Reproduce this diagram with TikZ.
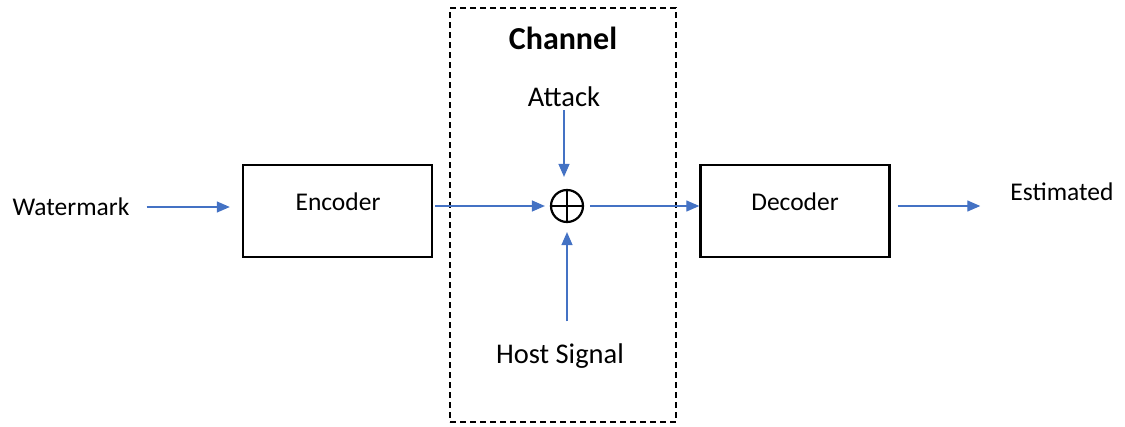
\documentclass[tikz,border=0pt]{standalone}
\usepackage{fontspec}
\setmainfont{Carlito}
\usetikzlibrary{arrows.meta}
\definecolor{sigblue}{HTML}{4472C4}

\begin{document}
\begin{tikzpicture}[x=1pt, y=-1pt, >={Triangle[length=13pt, width=11pt]}, font=\fontsize{25.5}{30}\selectfont]
    \tikzstyle{block}=[draw, black, line width=2.4pt, minimum width=189pt, minimum height=92pt, inner sep=0pt]
    \tikzstyle{txt}=[inner sep=0pt]
    \tikzstyle{big}=[font=\fontsize{28.5}{33}\selectfont]
    \tikzstyle{sig}=[->, sigblue, line width=1.3pt]
    \tikzstyle{adder}=[draw, black, line width=2.2pt, circle, minimum size=32pt, inner sep=0pt,
        path picture={\draw[line width=2.2pt] (path picture bounding box.north) -- (path picture bounding box.south)
            (path picture bounding box.west) -- (path picture bounding box.east);}]

    \useasboundingbox (0,0) rectangle (1125,426);

    % Draw the channel frame
    \node[draw, line width=2.4pt, dash pattern=on 6pt off 4pt, minimum width=226pt, minimum height=414pt] (ch) at (563,215) {};
    \node[txt, font=\fontsize{32}{36}\selectfont\bfseries] (ch-title) at (563,38) {Channel};

    % Draw the blocks
    \node[block] (enc) at (337.5,211) {};
    \node[txt] (enc-txt) at (338,202) {Encoder};
    \node[block] (dec) at (795,211) {};
    \node[txt] (dec-txt) at (795,202) {Decoder};
    \node[adder] (add) at (567,206) {};

    % Inputs and output
    \node[txt] (wm) at (71,207) {Watermark};
    \node[txt, big] (att) at (564,97) {Attack};
    \node[txt, big] (host) at (560,356) {Host Signal};
    \node[txt] (est) at (1062,192) {Estimated};

    % Connect everything
    \draw[sig, shorten <=17pt, shorten >=12pt] (wm.east) -- (wm.east -| enc.west);
    \draw[sig, shorten <=2pt, shorten >=5pt] (add -| enc.east) -- (add.west);
    \draw[sig, shorten <=3pt, shorten >=12pt] (att.south) -- (att.south |- add.north);
    \draw[sig, shorten <=22pt, shorten >=9pt] (host.north -| add) -- (add.south);
    \draw[sig, shorten <=6pt] (add.east) -- (add -| dec.west);
    \draw[sig, shorten <=7pt, shorten >=30pt] (add -| dec.east) -- (add -| est.west);
\end{tikzpicture}
\end{document}
